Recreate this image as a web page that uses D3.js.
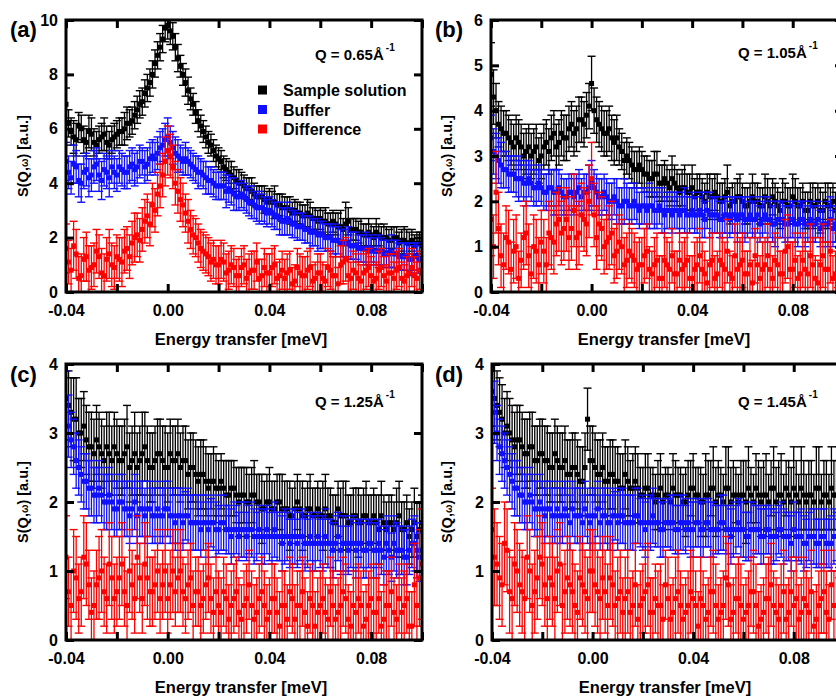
<!DOCTYPE html>
<html><head><meta charset="utf-8">
<script src="https://cdn.jsdelivr.net/npm/d3@7"></script>
<style>
body{margin:0;background:#fff}
svg{display:block}
text{font-family:"Liberation Sans",Arial,sans-serif;font-weight:bold;fill:#000}
</style>
</head><body>
<svg id="chart" width="836" height="698"></svg>
<script>
// ---------- data ----------
// energy grid (meV): main points and the points in between
const energy = [
-0.040,-0.038,-0.036,-0.034,-0.032,-0.030,-0.028,-0.026,-0.024,-0.022,
-0.020,-0.018,-0.016,-0.014,-0.012,-0.010,-0.008,-0.006,-0.004,-0.002,
0.000,0.002,0.004,0.006,0.008,0.010,0.012,0.014,0.016,0.018,
0.020,0.022,0.024,0.026,0.028,0.030,0.032,0.034,0.036,0.038,
0.040,0.042,0.044,0.046,0.048,0.050,0.052,0.054,0.056,0.058,
0.060,0.062,0.064,0.066,0.068,0.070,0.072,0.074,0.076,0.078,
0.080,0.082,0.084,0.086,0.088,0.090,0.092,0.094,0.096,0.098,
0.100];
const energyMid = [
-0.039,-0.037,-0.035,-0.033,-0.031,-0.029,-0.027,-0.025,-0.023,-0.021,
-0.019,-0.017,-0.015,-0.013,-0.011,-0.009,-0.007,-0.005,-0.003,-0.001,
0.001,0.003,0.005,0.007,0.009,0.011,0.013,0.015,0.017,0.019,
0.021,0.023,0.025,0.027,0.029,0.031,0.033,0.035,0.037,0.039,
0.041,0.043,0.045,0.047,0.049,0.051,0.053,0.055,0.057,0.059,
0.061,0.063,0.065,0.067,0.069,0.071,0.073,0.075,0.077,0.079,
0.081,0.083,0.085,0.087,0.089,0.091,0.093,0.095,0.097,0.099];

const seriesNames = ["Sample solution","Buffer","Difference"];
const seriesColors = ["#000000","#1010ff","#ff0000"];
const panelLabels = ["(a)","(b)","(c)","(d)"];
const qValues = ["0.65","1.05","1.25","1.45"];
const xDomain = [-0.04, 0.10];
const xTickValues = [-0.04,-0.02,0.00,0.02,0.04,0.06,0.08,0.10];
const xTickLabels = {"-0.04":"-0.04","0":"0.00","0.04":"0.04","0.08":"0.08"};
const aYTicks = [0,2,4,6,8,10];
const bYTicks = [0,1,2,3,4,5,6];
const cYTicks = [0,1,2,3,4];
const dYTicks = [0,1,2,3,4];

// ===== panel (a) Q = 0.65 =====
const aBlack = [
6.9,5.9,5.6,6.0,5.5,5.8,5.4,5.7,5.5,5.6,
5.8,5.9,6.2,6.3,6.7,7.0,7.5,8.0,8.7,9.3,
9.8,9.4,8.6,8.0,7.4,6.9,6.3,5.9,5.5,5.2,
4.9,4.6,4.4,4.2,4.0,3.9,3.8,3.6,3.5,3.4,
3.4,3.3,3.2,3.1,3.0,3.0,2.9,2.8,2.8,2.7,
2.7,2.6,2.5,2.5,2.4,2.5,2.3,2.3,2.2,2.1,
2.1,2.2,2.0,2.0,1.9,2.0,1.9,1.8,1.9,1.8,
1.7];
const aBlackErr = [
0.6,0.5,0.6,0.5,0.5,0.6,0.5,0.5,0.6,0.5,
0.5,0.5,0.6,0.5,0.5,0.5,0.5,0.5,0.5,0.5,
0.5,0.5,0.5,0.4,0.5,0.4,0.4,0.4,0.4,0.4,
0.4,0.4,0.4,0.4,0.5,0.4,0.4,0.4,0.4,0.5,
0.4,0.6,0.4,0.4,0.5,0.4,0.4,0.4,0.5,0.4,
0.4,0.5,0.4,0.4,0.6,0.8,0.4,0.4,0.5,0.4,
0.4,0.5,0.4,0.4,0.5,0.4,0.4,0.5,0.4,0.4,
0.4];
const aBlackMid = [
6.2,5.7,6.1,5.6,5.9,5.5,5.6,5.8,5.4,5.7,
5.9,6.0,6.2,6.5,6.9,7.3,7.7,8.4,9.0,9.7,
9.6,9.0,8.3,7.7,7.1,6.6,6.1,5.7,5.4,5.0,
4.8,4.5,4.3,4.1,4.0,3.8,3.7,3.5,3.5,3.3,
3.3,3.2,3.1,3.1,2.9,2.9,2.8,2.9,2.7,2.6,
2.6,2.5,2.6,2.4,2.3,2.6,2.3,2.2,2.1,2.2,
2.0,2.1,2.0,1.9,2.0,1.8,1.9,1.8,1.7,1.8];
const aBlackMidErr = [
0.5,0.6,0.5,0.5,0.6,0.5,0.5,0.6,0.5,0.5,
0.5,0.6,0.5,0.5,0.5,0.5,0.5,0.5,0.5,0.5,
0.5,0.5,0.4,0.5,0.4,0.4,0.4,0.4,0.4,0.4,
0.4,0.4,0.5,0.4,0.4,0.4,0.5,0.4,0.4,0.4,
0.4,0.4,0.5,0.4,0.4,0.4,0.4,0.5,0.4,0.4,
0.4,0.4,0.4,0.5,0.4,0.5,0.4,0.4,0.4,0.5,
0.4,0.4,0.5,0.4,0.4,0.4,0.5,0.4,0.4,0.4];
const aBlue = [
4.8,4.2,4.6,4.0,4.5,4.3,4.7,4.1,4.4,4.6,
4.3,4.5,4.4,4.7,4.6,4.8,4.7,5.0,5.1,5.4,
5.7,5.3,5.0,4.8,4.8,4.6,4.4,4.3,4.1,4.0,
3.9,3.9,3.8,3.6,3.5,3.5,3.3,3.2,3.1,3.0,
3.0,2.8,2.7,2.6,2.6,2.5,2.4,2.3,2.2,2.2,
2.1,2.0,2.0,1.9,1.8,1.8,1.7,1.7,1.6,1.6,
1.6,1.5,1.5,1.4,1.5,1.4,1.3,1.3,1.2,1.3,
1.2];
const aBlueErr = [
0.7,0.6,0.6,0.7,0.6,0.6,0.6,0.7,0.6,0.6,
0.6,0.6,0.6,0.6,0.6,0.5,0.6,0.6,0.6,0.6,
0.7,0.6,0.6,0.5,0.5,0.5,0.6,0.5,0.5,0.5,
0.5,0.5,0.5,0.6,0.5,0.5,0.5,0.5,0.6,0.5,
0.5,0.5,0.6,0.5,0.5,0.5,0.5,0.5,0.6,0.5,
0.5,0.5,0.5,0.6,0.5,0.5,0.5,0.5,0.5,0.6,
0.5,0.5,0.5,0.5,0.6,0.5,0.5,0.5,0.5,0.5,
0.5];
const aBlueMid = [
4.4,4.7,4.1,4.4,4.2,4.6,4.3,4.5,4.2,4.4,
4.6,4.4,4.6,4.5,4.8,4.6,4.9,4.9,5.3,5.6,
5.5,5.1,4.9,4.9,4.7,4.5,4.4,4.2,4.1,3.9,
3.9,3.7,3.7,3.5,3.6,3.4,3.3,3.1,3.1,2.9,
2.9,2.8,2.6,2.7,2.5,2.4,2.4,2.3,2.2,2.1,
2.1,2.0,1.9,1.9,1.8,1.8,1.7,1.6,1.6,1.5,
1.5,1.5,1.4,1.4,1.4,1.3,1.3,1.2,1.3,1.2];
const aBlueMidErr = [
0.6,0.7,0.6,0.6,0.7,0.6,0.6,0.6,0.7,0.6,
0.6,0.6,0.6,0.6,0.6,0.6,0.6,0.6,0.6,0.6,
0.6,0.6,0.5,0.6,0.5,0.5,0.5,0.6,0.5,0.5,
0.5,0.6,0.5,0.5,0.5,0.5,0.6,0.5,0.5,0.5,
0.5,0.5,0.5,0.6,0.5,0.5,0.5,0.5,0.5,0.6,
0.5,0.5,0.5,0.5,0.5,0.6,0.5,0.5,0.5,0.5,
0.5,0.6,0.5,0.5,0.5,0.5,0.5,0.6,0.5,0.5];
const aRed = [
1.6,0.8,1.4,0.6,1.3,0.9,1.5,0.7,1.2,1.0,
1.3,1.1,1.6,1.8,2.1,2.3,2.8,3.2,3.6,4.3,
5.2,4.6,3.7,3.2,2.6,2.1,1.8,1.5,1.3,1.2,
1.0,1.1,0.8,0.9,0.6,1.0,0.7,0.8,0.5,0.9,
0.7,1.0,0.6,0.5,0.8,0.4,0.7,0.6,0.9,0.5,
0.7,0.4,0.8,0.6,1.0,1.2,0.5,0.7,0.4,0.8,
0.6,0.5,0.9,0.4,0.7,0.8,0.5,0.6,0.9,0.5,
0.7];
const aRedErr = [
0.9,0.8,0.9,0.8,0.9,0.8,0.8,0.9,0.8,0.8,
0.8,0.9,0.8,0.8,0.8,0.8,0.8,0.8,0.8,0.8,
0.9,0.8,0.8,0.8,0.8,0.7,0.7,0.7,0.7,0.7,
0.7,0.7,0.7,0.7,0.7,0.7,0.7,0.7,0.7,0.7,
0.7,0.7,0.6,0.7,0.7,0.6,0.7,0.7,0.7,0.6,
0.7,0.6,0.7,0.7,0.7,0.8,0.6,0.7,0.6,0.7,
0.7,0.6,0.7,0.6,0.7,0.7,0.6,0.7,0.7,0.6,
0.7];
const aRedMid = [
1.1,1.7,0.5,1.2,0.8,1.0,1.3,0.6,1.4,0.9,
1.2,1.5,1.3,2.0,1.9,2.6,2.5,3.0,3.9,4.8,
5.0,4.0,3.4,2.9,2.3,2.0,1.6,1.4,1.1,1.0,
1.2,0.7,1.0,0.6,0.9,0.5,0.8,1.1,0.6,0.7,
0.9,0.5,0.8,0.7,0.3,0.9,0.6,0.8,0.4,0.7,
0.5,0.9,0.6,0.3,1.1,0.6,0.8,0.5,0.7,0.9,
0.4,0.8,0.6,0.7,0.5,0.9,0.4,0.7,0.6,0.8];
const aRedMidErr = [
0.8,0.9,0.8,0.8,0.9,0.8,0.8,0.8,0.9,0.8,
0.8,0.8,0.8,0.9,0.8,0.8,0.8,0.8,0.8,0.9,
0.8,0.8,0.8,0.7,0.7,0.7,0.7,0.7,0.7,0.7,
0.7,0.7,0.7,0.6,0.7,0.7,0.7,0.7,0.6,0.7,
0.7,0.6,0.7,0.7,0.6,0.7,0.7,0.7,0.6,0.7,
0.6,0.7,0.7,0.6,0.8,0.7,0.7,0.6,0.7,0.7,
0.6,0.7,0.7,0.7,0.6,0.7,0.6,0.7,0.7,0.7];

// ===== panel (b) Q = 1.05 =====
const bBlack = [
4.8,4.0,3.6,3.5,3.3,3.4,3.2,3.1,3.0,3.2,
3.0,3.3,3.4,3.2,3.5,3.4,3.7,3.6,3.8,3.9,
4.6,3.8,3.6,3.5,3.4,3.4,3.1,3.0,2.8,2.7,
2.7,2.6,2.5,2.6,2.4,2.4,2.5,2.3,2.3,2.2,
2.3,2.2,2.1,2.2,2.1,2.1,2.0,2.2,2.0,2.1,
2.0,1.9,2.1,2.0,1.9,2.0,2.1,1.9,2.0,1.9,
2.1,1.9,2.0,1.8,1.9,2.0,1.8,1.9,2.0,1.9,
2.0];
const bBlackErr = [
0.7,0.6,0.5,0.5,0.5,0.5,0.5,0.5,0.5,0.5,
0.5,0.5,0.5,0.5,0.5,0.5,0.5,0.5,0.5,0.5,
0.6,0.5,0.5,0.5,0.5,0.5,0.4,0.4,0.4,0.4,
0.4,0.4,0.4,0.5,0.4,0.4,0.5,0.4,0.4,0.4,
0.5,0.4,0.4,0.4,0.4,0.5,0.4,0.6,0.4,0.4,
0.4,0.4,0.5,0.4,0.4,0.5,0.4,0.4,0.5,0.4,
0.5,0.4,0.4,0.4,0.5,0.4,0.4,0.5,0.4,0.4,
0.4];
const bBlackMid = [
4.3,3.7,3.5,3.4,3.2,3.3,3.0,3.2,3.1,2.9,
3.2,3.1,3.5,3.3,3.4,3.6,3.5,3.8,3.7,4.1,
4.0,3.7,3.5,3.6,3.3,3.2,2.9,2.9,2.7,2.8,
2.6,2.5,2.6,2.4,2.5,2.3,2.4,2.2,2.3,2.2,
2.1,2.2,2.0,2.1,2.2,2.0,2.1,1.9,2.0,2.1,
1.9,2.0,2.0,1.9,2.1,1.9,2.0,1.8,2.0,1.9,
2.0,1.9,1.8,2.0,1.9,1.8,2.0,1.9,1.8,2.0];
const bBlackMidErr = [
0.6,0.5,0.5,0.5,0.5,0.5,0.5,0.5,0.5,0.5,
0.5,0.5,0.5,0.5,0.5,0.5,0.5,0.5,0.5,0.5,
0.5,0.5,0.5,0.5,0.5,0.4,0.4,0.4,0.4,0.4,
0.4,0.4,0.5,0.4,0.4,0.4,0.4,0.4,0.5,0.4,
0.4,0.4,0.4,0.5,0.4,0.4,0.4,0.4,0.4,0.5,
0.4,0.4,0.4,0.4,0.5,0.4,0.4,0.4,0.4,0.4,
0.5,0.4,0.4,0.4,0.4,0.5,0.4,0.4,0.4,0.4];
const bBlue = [
3.4,3.0,2.8,2.7,2.6,2.5,2.5,2.4,2.4,2.3,
2.3,2.2,2.3,2.2,2.2,2.1,2.2,2.2,2.1,2.2,
2.4,2.2,2.1,2.1,2.0,2.0,1.9,2.0,1.9,1.9,
1.9,1.8,1.9,1.8,1.8,1.8,1.7,1.8,1.8,1.7,
1.8,1.7,1.7,1.8,1.7,1.7,1.6,1.7,1.7,1.6,
1.7,1.6,1.6,1.7,1.6,1.6,1.5,1.6,1.6,1.5,
1.6,1.5,1.6,1.5,1.5,1.6,1.5,1.5,1.4,1.5,
1.5];
const bBlueErr = [
0.5,0.5,0.5,0.4,0.4,0.4,0.4,0.5,0.4,0.4,
0.4,0.4,0.4,0.5,0.4,0.4,0.4,0.4,0.4,0.4,
0.5,0.4,0.4,0.4,0.4,0.5,0.4,0.4,0.4,0.4,
0.4,0.4,0.4,0.4,0.5,0.4,0.4,0.4,0.4,0.4,
0.4,0.4,0.5,0.4,0.4,0.4,0.4,0.4,0.4,0.5,
0.4,0.4,0.4,0.4,0.4,0.5,0.4,0.4,0.4,0.4,
0.4,0.5,0.4,0.4,0.4,0.4,0.4,0.5,0.4,0.4,
0.4];
const bBlueMid = [
3.1,2.9,2.7,2.6,2.6,2.5,2.4,2.5,2.3,2.4,
2.2,2.3,2.2,2.3,2.1,2.2,2.1,2.3,2.2,2.3,
2.3,2.1,2.2,2.0,2.1,1.9,2.0,1.9,2.0,1.8,
1.9,1.9,1.8,1.9,1.7,1.8,1.8,1.7,1.8,1.7,
1.7,1.8,1.6,1.7,1.7,1.6,1.7,1.6,1.7,1.7,
1.6,1.7,1.6,1.5,1.7,1.6,1.5,1.6,1.5,1.6,
1.5,1.6,1.5,1.6,1.5,1.4,1.5,1.6,1.5,1.4];
const bBlueMidErr = [
0.5,0.5,0.4,0.4,0.4,0.5,0.4,0.4,0.4,0.4,
0.4,0.4,0.5,0.4,0.4,0.4,0.4,0.4,0.4,0.5,
0.4,0.4,0.4,0.4,0.4,0.4,0.5,0.4,0.4,0.4,
0.4,0.5,0.4,0.4,0.4,0.4,0.4,0.4,0.5,0.4,
0.4,0.4,0.4,0.5,0.4,0.4,0.4,0.4,0.4,0.4,
0.5,0.4,0.4,0.4,0.4,0.4,0.5,0.4,0.4,0.4,
0.4,0.4,0.5,0.4,0.4,0.4,0.4,0.5,0.4,0.4];
const bRed = [
1.6,2.2,0.8,1.2,0.5,1.0,0.7,1.3,0.4,0.9,
1.1,0.6,1.2,1.5,1.3,1.6,1.4,1.2,1.7,1.5,
2.5,1.2,1.4,1.1,1.3,0.9,1.0,0.7,0.8,0.5,
0.6,0.9,0.4,0.7,0.3,0.6,0.8,0.4,0.5,0.7,
0.3,0.6,0.5,0.2,0.7,0.4,0.6,0.9,0.3,0.5,
0.7,0.4,0.2,0.6,0.5,0.8,0.3,0.6,0.4,1.0,
0.5,0.3,0.7,0.4,0.6,0.2,0.8,0.5,0.3,0.7,
0.6];
const bRedErr = [
0.8,0.9,0.7,0.7,0.6,0.7,0.6,0.7,0.6,0.7,
0.7,0.6,0.7,0.7,0.7,0.7,0.7,0.7,0.7,0.7,
0.8,0.7,0.7,0.6,0.7,0.6,0.6,0.6,0.6,0.6,
0.6,0.6,0.5,0.6,0.5,0.6,0.6,0.5,0.6,0.6,
0.5,0.6,0.6,0.5,0.6,0.5,0.6,0.7,0.5,0.6,
0.6,0.5,0.5,0.6,0.6,0.7,0.5,0.6,0.5,0.7,
0.6,0.5,0.6,0.5,0.6,0.5,0.7,0.6,0.5,0.6,
0.6];
const bRedMid = [
1.0,1.4,0.6,1.1,0.9,0.3,1.2,0.8,1.0,0.6,
0.9,1.3,1.1,1.6,1.4,1.2,1.8,1.3,1.6,2.0,
1.7,1.5,1.0,1.2,0.8,1.1,0.6,0.9,0.7,0.6,
0.8,0.5,0.6,0.3,0.7,0.5,0.4,0.7,0.6,0.3,
0.5,0.8,0.4,0.6,0.3,0.7,0.5,0.4,0.8,0.6,
0.4,0.6,0.8,0.3,0.6,0.5,0.7,0.4,0.9,0.5,
0.7,0.4,0.5,0.8,0.3,0.6,0.5,0.9,0.4,0.7];
const bRedMidErr = [
0.7,0.8,0.7,0.7,0.7,0.6,0.7,0.7,0.7,0.6,
0.7,0.7,0.7,0.7,0.7,0.7,0.8,0.7,0.7,0.8,
0.7,0.7,0.6,0.7,0.6,0.6,0.6,0.6,0.6,0.6,
0.6,0.5,0.6,0.5,0.6,0.6,0.5,0.6,0.6,0.5,
0.6,0.6,0.5,0.6,0.5,0.6,0.6,0.5,0.7,0.6,
0.5,0.6,0.6,0.5,0.6,0.6,0.6,0.5,0.7,0.6,
0.6,0.5,0.6,0.7,0.5,0.6,0.6,0.7,0.5,0.6];

// ===== panel (c) Q = 1.25 =====
const cBlack = [
3.5,3.3,3.2,3.0,2.9,2.8,2.9,2.7,2.8,2.6,
2.7,2.6,2.8,2.6,2.5,2.7,2.6,2.5,2.7,2.6,
2.5,2.6,2.7,2.6,2.4,2.5,2.3,2.4,2.2,2.3,
2.2,2.2,2.1,2.2,2.0,2.1,2.0,2.1,2.0,1.9,
2.0,1.9,2.0,1.9,1.8,1.9,1.9,1.8,1.9,1.8,
1.8,1.9,1.8,1.7,1.8,1.8,1.7,1.8,1.7,1.8,
1.7,1.7,1.8,1.6,1.7,1.7,1.6,1.7,1.6,1.5,
1.7];
const cBlackErr = [
0.5,0.5,0.6,0.5,0.5,0.5,0.5,0.5,0.5,0.5,
0.5,0.5,0.6,0.5,0.5,0.6,0.5,0.5,0.5,0.5,
0.5,0.5,0.5,0.5,0.5,0.5,0.5,0.5,0.5,0.5,
0.4,0.4,0.5,0.4,0.5,0.4,0.4,0.5,0.4,0.4,
0.5,0.4,0.4,0.4,0.5,0.4,0.4,0.4,0.5,0.4,
0.4,0.5,0.4,0.4,0.4,0.5,0.4,0.4,0.4,0.5,
0.4,0.4,0.5,0.4,0.4,0.5,0.4,0.4,0.4,0.5,
0.4];
const cBlackMid = [
3.4,3.2,3.0,3.1,2.8,2.7,2.8,2.6,2.7,2.8,
2.6,2.7,2.5,2.7,2.6,2.8,2.5,2.6,2.7,2.5,
2.7,2.6,2.5,2.6,2.5,2.4,2.4,2.3,2.3,2.2,
2.3,2.1,2.2,2.1,2.1,2.0,2.1,2.0,1.9,2.0,
1.9,2.0,1.9,1.9,1.8,2.0,1.8,1.9,1.8,1.9,
1.8,1.8,1.7,1.9,1.8,1.7,1.8,1.7,1.8,1.7,
1.8,1.6,1.7,1.7,1.6,1.8,1.6,1.5,1.7,1.6];
const cBlackMidErr = [
0.5,0.6,0.5,0.5,0.5,0.5,0.5,0.5,0.6,0.5,
0.5,0.5,0.5,0.6,0.5,0.5,0.5,0.5,0.5,0.6,
0.5,0.5,0.5,0.5,0.5,0.5,0.5,0.5,0.4,0.5,
0.4,0.5,0.4,0.4,0.4,0.5,0.4,0.4,0.5,0.4,
0.4,0.4,0.5,0.4,0.4,0.4,0.5,0.4,0.4,0.4,
0.5,0.4,0.4,0.4,0.5,0.4,0.4,0.5,0.4,0.4,
0.4,0.5,0.4,0.4,0.4,0.5,0.4,0.4,0.5,0.4];
const cBlue = [
3.4,2.9,2.6,2.4,2.3,2.2,2.1,2.1,2.0,2.0,
1.9,2.0,1.9,1.9,1.8,1.9,1.9,1.8,1.9,1.8,
1.9,1.8,1.8,1.7,1.8,1.7,1.7,1.7,1.6,1.7,
1.6,1.7,1.6,1.6,1.5,1.6,1.6,1.5,1.6,1.5,
1.5,1.6,1.5,1.5,1.4,1.5,1.5,1.4,1.5,1.4,
1.4,1.5,1.4,1.4,1.3,1.4,1.4,1.3,1.4,1.3,
1.4,1.3,1.3,1.4,1.2,1.3,1.3,1.2,1.4,1.3,
1.3];
const cBlueErr = [
0.5,0.4,0.4,0.4,0.4,0.4,0.4,0.4,0.4,0.4,
0.4,0.4,0.4,0.4,0.4,0.4,0.4,0.4,0.4,0.4,
0.4,0.4,0.4,0.4,0.4,0.4,0.4,0.4,0.4,0.4,
0.35,0.4,0.35,0.4,0.35,0.4,0.35,0.4,0.35,0.4,
0.35,0.4,0.35,0.4,0.35,0.4,0.35,0.4,0.35,0.4,
0.35,0.4,0.35,0.4,0.35,0.4,0.35,0.4,0.35,0.4,
0.35,0.4,0.35,0.4,0.35,0.4,0.35,0.4,0.35,0.4,
0.4];
const cBlueMid = [
3.1,2.8,2.5,2.3,2.2,2.1,2.2,2.0,2.1,1.9,
2.0,1.9,1.8,2.0,1.9,1.8,1.9,1.8,1.8,1.9,
1.8,1.7,1.8,1.8,1.7,1.7,1.6,1.7,1.7,1.6,
1.7,1.6,1.5,1.6,1.6,1.5,1.6,1.5,1.5,1.6,
1.5,1.5,1.4,1.5,1.5,1.4,1.5,1.4,1.4,1.5,
1.4,1.4,1.3,1.5,1.4,1.3,1.4,1.4,1.3,1.4,
1.3,1.4,1.2,1.3,1.4,1.3,1.2,1.3,1.4,1.2];
const cBlueMidErr = [
0.45,0.4,0.4,0.4,0.4,0.4,0.4,0.4,0.4,0.4,
0.4,0.4,0.4,0.4,0.4,0.4,0.4,0.4,0.4,0.4,
0.4,0.4,0.4,0.35,0.4,0.4,0.4,0.4,0.35,0.4,
0.4,0.35,0.4,0.35,0.4,0.35,0.4,0.35,0.4,0.35,
0.4,0.35,0.4,0.35,0.4,0.35,0.4,0.35,0.4,0.35,
0.4,0.35,0.4,0.35,0.4,0.35,0.4,0.35,0.4,0.35,
0.4,0.35,0.4,0.35,0.4,0.35,0.4,0.35,0.4,0.35];
const cRed = [
1.2,0.5,0.9,0.7,1.1,0.4,0.8,1.0,0.6,0.9,
0.7,1.1,0.5,0.8,1.2,0.6,0.9,0.7,1.0,0.8,
0.6,1.0,0.9,0.7,0.8,0.5,0.7,0.6,0.9,0.4,
0.5,0.7,0.3,0.6,0.4,0.5,0.8,0.3,0.6,0.5,
0.4,0.6,0.2,0.5,0.7,0.3,0.5,0.4,0.6,0.2,
0.5,0.4,0.7,0.3,0.5,0.6,0.2,0.4,0.5,0.3,
0.6,0.4,0.2,0.5,0.7,0.3,0.4,0.6,0.2,0.5,
1.1];
const cRedErr = [
0.6,0.5,0.6,0.5,0.6,0.5,0.5,0.6,0.5,0.6,
0.5,0.6,0.5,0.5,0.6,0.5,0.6,0.5,0.6,0.5,
0.5,0.6,0.5,0.5,0.5,0.5,0.5,0.5,0.5,0.5,
0.5,0.5,0.5,0.5,0.5,0.5,0.5,0.5,0.5,0.5,
0.5,0.5,0.5,0.5,0.5,0.5,0.5,0.5,0.5,0.5,
0.5,0.5,0.5,0.5,0.5,0.5,0.5,0.5,0.5,0.5,
0.5,0.5,0.5,0.5,0.5,0.5,0.5,0.5,0.5,0.5,
0.8];
const cRedMid = [
0.7,1.0,0.6,1.2,0.8,0.5,0.9,0.7,1.1,0.6,
0.9,0.7,1.0,0.6,0.9,1.1,0.7,0.8,0.6,1.0,
0.8,0.7,1.0,0.6,0.9,0.7,0.5,0.8,0.6,0.7,
0.4,0.6,0.5,0.7,0.3,0.6,0.5,0.4,0.7,0.3,
0.6,0.4,0.5,0.3,0.6,0.5,0.7,0.2,0.5,0.4,
0.6,0.3,0.5,0.4,0.7,0.3,0.5,0.6,0.2,0.5,
0.4,0.6,0.3,0.5,0.4,0.6,0.5,0.2,0.8,0.9];
const cRedMidErr = [
0.5,0.6,0.5,0.6,0.5,0.5,0.6,0.5,0.6,0.5,
0.6,0.5,0.6,0.5,0.5,0.6,0.5,0.5,0.5,0.6,
0.5,0.5,0.6,0.5,0.5,0.5,0.5,0.5,0.5,0.5,
0.5,0.5,0.5,0.5,0.5,0.5,0.5,0.5,0.5,0.5,
0.5,0.5,0.5,0.5,0.5,0.5,0.5,0.5,0.5,0.5,
0.5,0.5,0.5,0.5,0.5,0.5,0.5,0.5,0.5,0.5,
0.5,0.5,0.5,0.5,0.5,0.5,0.5,0.5,0.6,0.7];

// ===== panel (d) Q = 1.45 =====
const dBlack = [
3.6,3.4,3.2,3.1,2.9,2.9,2.8,2.7,2.8,2.6,
2.7,2.6,2.5,2.6,2.5,2.4,2.5,2.4,2.3,3.2,
2.6,2.4,2.5,2.3,2.4,2.3,2.2,2.3,2.2,2.2,
2.1,2.2,2.1,2.1,2.0,2.1,2.2,2.1,2.0,2.1,
2.2,2.1,2.0,2.1,2.2,2.1,2.0,2.2,2.1,2.0,
2.1,2.2,2.0,2.1,2.1,2.0,2.2,2.1,2.0,2.1,
2.2,2.0,2.1,2.1,2.0,2.2,2.1,2.0,2.1,2.2,
3.0];
const dBlackErr = [
0.5,0.5,0.5,0.5,0.5,0.5,0.5,0.5,0.5,0.5,
0.5,0.5,0.5,0.5,0.5,0.5,0.5,0.5,0.5,0.45,
0.5,0.5,0.5,0.5,0.5,0.5,0.5,0.5,0.5,0.5,
0.4,0.5,0.4,0.5,0.4,0.4,0.5,0.4,0.4,0.5,
0.5,0.4,0.4,0.5,0.6,0.5,0.4,0.6,0.5,0.4,
0.5,0.6,0.4,0.5,0.5,0.4,0.6,0.5,0.4,0.5,
0.6,0.4,0.5,0.5,0.4,0.6,0.5,0.4,0.5,0.6,
0.6];
const dBlackMid = [
3.5,3.3,3.0,3.0,2.8,2.9,2.7,2.8,2.6,2.7,
2.6,2.5,2.7,2.5,2.6,2.4,2.5,2.3,2.5,2.6,
2.5,2.4,2.3,2.4,2.3,2.2,2.4,2.2,2.3,2.1,
2.2,2.1,2.0,2.2,2.1,2.0,2.1,2.1,2.0,2.2,
2.1,2.0,2.1,2.2,2.0,2.1,2.2,2.0,2.1,2.1,
2.0,2.1,2.2,2.0,2.1,2.2,2.0,2.1,2.2,2.0,
2.1,2.2,2.0,2.1,2.2,2.0,2.1,2.2,2.1,2.3];
const dBlackMidErr = [
0.5,0.5,0.5,0.5,0.5,0.5,0.5,0.5,0.5,0.5,
0.5,0.5,0.5,0.5,0.5,0.5,0.5,0.5,0.5,0.5,
0.5,0.5,0.5,0.5,0.5,0.5,0.5,0.4,0.5,0.4,
0.5,0.4,0.4,0.5,0.4,0.4,0.5,0.4,0.5,0.4,
0.4,0.5,0.6,0.4,0.5,0.4,0.6,0.5,0.4,0.5,
0.6,0.4,0.5,0.5,0.6,0.4,0.5,0.6,0.4,0.5,
0.5,0.6,0.4,0.5,0.6,0.4,0.5,0.6,0.5,0.6];
const dBlue = [
3.5,3.0,2.7,2.5,2.3,2.2,2.1,2.0,2.0,1.9,
1.9,1.9,1.8,1.9,1.8,1.8,1.9,1.8,1.7,1.8,
1.8,1.9,1.8,1.7,1.8,1.7,1.8,1.7,1.7,1.8,
1.7,1.7,1.8,1.7,1.6,1.7,1.7,1.6,1.7,1.7,
1.6,1.7,1.6,1.7,1.6,1.6,1.7,1.6,1.6,1.7,
1.6,1.5,1.6,1.6,1.5,1.6,1.5,1.6,1.5,1.5,
1.6,1.5,1.4,1.5,1.5,1.4,1.5,1.4,1.5,1.4,
1.4];
const dBlueErr = [
0.5,0.4,0.4,0.4,0.4,0.4,0.4,0.4,0.4,0.4,
0.4,0.4,0.4,0.4,0.4,0.4,0.4,0.4,0.4,0.4,
0.4,0.4,0.4,0.4,0.4,0.4,0.4,0.4,0.4,0.4,
0.4,0.35,0.4,0.35,0.4,0.35,0.4,0.35,0.4,0.35,
0.4,0.35,0.4,0.35,0.4,0.35,0.4,0.35,0.4,0.35,
0.4,0.35,0.4,0.35,0.4,0.35,0.4,0.35,0.4,0.35,
0.4,0.35,0.4,0.35,0.4,0.35,0.4,0.35,0.4,0.35,
0.4];
const dBlueMid = [
3.3,2.8,2.6,2.4,2.2,2.1,2.0,2.1,1.9,2.0,
1.8,1.9,1.8,1.8,1.9,1.7,1.8,1.8,1.9,1.7,
1.8,1.7,1.8,1.7,1.8,1.8,1.7,1.7,1.8,1.7,
1.6,1.7,1.7,1.6,1.7,1.7,1.6,1.7,1.6,1.6,
1.7,1.6,1.7,1.6,1.6,1.7,1.6,1.5,1.6,1.6,
1.5,1.6,1.6,1.5,1.6,1.5,1.5,1.6,1.5,1.4,
1.5,1.5,1.4,1.5,1.4,1.5,1.4,1.4,1.5,1.4];
const dBlueMidErr = [
0.45,0.4,0.4,0.4,0.4,0.4,0.4,0.4,0.4,0.4,
0.4,0.4,0.4,0.4,0.4,0.4,0.4,0.4,0.4,0.4,
0.4,0.4,0.4,0.4,0.35,0.4,0.4,0.4,0.4,0.35,
0.4,0.4,0.35,0.4,0.35,0.4,0.35,0.4,0.35,0.4,
0.35,0.4,0.35,0.4,0.35,0.4,0.35,0.4,0.35,0.4,
0.35,0.4,0.35,0.4,0.35,0.4,0.35,0.4,0.35,0.4,
0.35,0.4,0.35,0.4,0.35,0.4,0.35,0.4,0.35,0.4];
const dRed = [
1.6,1.1,0.8,1.3,0.6,1.0,0.7,1.2,0.5,0.9,
1.1,0.6,0.8,1.0,0.5,0.9,0.7,0.4,0.8,0.6,
1.0,0.7,0.9,0.5,0.8,0.6,0.4,0.7,0.5,0.3,
0.6,0.8,0.4,0.5,0.3,0.6,0.4,0.7,0.3,0.5,
0.6,0.2,0.5,0.4,0.7,0.3,0.5,0.8,0.4,0.6,
0.3,0.5,0.7,0.2,0.4,0.6,0.5,0.3,0.7,0.4,
0.5,0.3,0.6,0.4,0.2,0.5,0.7,0.3,0.5,0.4,
0.6];
const dRedErr = [
0.6,0.6,0.6,0.6,0.6,0.6,0.6,0.6,0.6,0.6,
0.6,0.6,0.6,0.6,0.6,0.6,0.6,0.6,0.6,0.6,
0.6,0.6,0.6,0.6,0.6,0.6,0.5,0.6,0.5,0.5,
0.5,0.6,0.5,0.5,0.5,0.6,0.5,0.6,0.5,0.5,
0.6,0.5,0.5,0.5,0.6,0.5,0.5,0.6,0.5,0.6,
0.5,0.5,0.6,0.5,0.5,0.6,0.5,0.5,0.6,0.5,
0.5,0.5,0.6,0.5,0.5,0.5,0.6,0.5,0.5,0.5,
0.6];
const dRedMid = [
1.2,0.9,1.4,0.7,1.1,0.8,0.6,1.0,0.7,1.2,
0.8,0.9,0.6,1.1,0.7,0.8,0.5,0.9,0.7,1.0,
0.8,0.6,0.7,0.9,0.5,0.7,0.6,0.4,0.8,0.5,
0.7,0.4,0.6,0.5,0.8,0.3,0.6,0.5,0.4,0.7,
0.5,0.6,0.3,0.7,0.5,0.4,0.9,0.3,0.6,0.5,
0.4,0.7,0.5,0.3,0.6,0.8,0.4,0.5,0.3,0.7,
0.6,0.4,0.5,0.7,0.3,0.6,0.4,0.8,0.5,0.6];
const dRedMidErr = [
0.7,0.6,0.6,0.6,0.6,0.6,0.6,0.6,0.6,0.6,
0.6,0.6,0.6,0.6,0.6,0.6,0.6,0.6,0.6,0.6,
0.6,0.6,0.6,0.6,0.5,0.6,0.6,0.5,0.6,0.5,
0.6,0.5,0.5,0.6,0.5,0.5,0.6,0.5,0.5,0.6,
0.5,0.6,0.5,0.5,0.6,0.5,0.6,0.5,0.5,0.6,
0.5,0.5,0.6,0.5,0.5,0.6,0.5,0.6,0.5,0.5,
0.6,0.5,0.5,0.6,0.5,0.5,0.6,0.5,0.5,0.6];

// ---------- layout ----------
const panels = [
  {label:panelLabels[0], q:qValues[0], yTicks:aYTicks,
   vals:[[aBlack,aBlackMid],[aBlue,aBlueMid],[aRed,aRedMid]],
   errs:[[aBlackErr,aBlackMidErr],[aBlueErr,aBlueMidErr],[aRedErr,aRedMidErr]],
   l:66, t:20, w:356, h:272, legend:true, lab:[10,37], qpos:[315,60], ytx:23},
  {label:panelLabels[1], q:qValues[1], yTicks:bYTicks,
   vals:[[bBlack,bBlackMid],[bBlue,bBlueMid],[bRed,bRedMid]],
   errs:[[bBlackErr,bBlackMidErr],[bBlueErr,bBlueMidErr],[bRedErr,bRedMidErr]],
   l:491, t:20, w:352, h:272, legend:false, lab:[435,37], qpos:[738,58], ytx:447},
  {label:panelLabels[2], q:qValues[2], yTicks:cYTicks,
   vals:[[cBlack,cBlackMid],[cBlue,cBlueMid],[cRed,cRedMid]],
   errs:[[cBlackErr,cBlackMidErr],[cBlueErr,cBlueMidErr],[cRedErr,cRedMidErr]],
   l:66, t:364, w:356, h:276, legend:false, lab:[10,382], qpos:[315,407], ytx:23},
  {label:panelLabels[3], q:qValues[3], yTicks:dYTicks,
   vals:[[dBlack,dBlackMid],[dBlue,dBlueMid],[dRed,dRedMid]],
   errs:[[dBlackErr,dBlackMidErr],[dBlueErr,dBlueMidErr],[dRedErr,dRedMidErr]],
   l:492, t:364, w:352, h:276, legend:false, lab:[435,382], qpos:[738,407], ytx:447}
];

const svg = d3.select("#chart");
svg.append("rect").attr("width",836).attr("height",698).attr("fill","#fff");
const FONT = '"Liberation Sans",Arial,sans-serif';

panels.forEach((p, pi) => {
  const x = d3.scaleLinear().domain(xDomain).range([p.l, p.l + p.w]);
  const yMax = p.yTicks[p.yTicks.length - 1];
  const y = d3.scaleLinear().domain([0, yMax]).range([p.t + p.h, p.t]);
  const g = svg.append("g");

  const clipId = "clip" + pi;
  svg.append("clipPath").attr("id", clipId).append("rect")
    .attr("x", p.l).attr("y", p.t).attr("width", p.w).attr("height", p.h);
  const plot = g.append("g").attr("clip-path", `url(#${clipId})`);

  p.vals.forEach((pair, si) => {
    const [vMain, vMid] = pair;
    const [eMain, eMid] = p.errs[si];
    const col = seriesColors[si];
    const data = energy.map((e, i) => ({e, v: vMain[i], s: eMain[i]}))
      .concat(energyMid.map((e, i) => ({e, v: vMid[i], s: eMid[i]})))
      .sort((a, b) => a.e - b.e);
    const sg = plot.append("g").attr("stroke", col).attr("fill", col);
    const eb = sg.selectAll("g.eb").data(data).join("g").attr("class","eb");
    eb.append("line")
      .attr("x1", d => x(d.e)).attr("x2", d => x(d.e))
      .attr("y1", d => y(d.v - d.s)).attr("y2", d => y(d.v + d.s))
      .attr("stroke-width", 1.3);
    eb.append("line")
      .attr("x1", d => x(d.e) - 4).attr("x2", d => x(d.e) + 4)
      .attr("y1", d => y(d.v + d.s)).attr("y2", d => y(d.v + d.s))
      .attr("stroke-width", 1.4);
    eb.append("line")
      .attr("x1", d => x(d.e) - 4).attr("x2", d => x(d.e) + 4)
      .attr("y1", d => y(d.v - d.s)).attr("y2", d => y(d.v - d.s))
      .attr("stroke-width", 1.4);
    sg.selectAll("rect.m").data(data).join("rect").attr("class","m")
      .attr("x", d => x(d.e) - 2.5).attr("y", d => y(d.v) - 2.5)
      .attr("width", 5).attr("height", 5).attr("stroke", "none");
  });

  // axes with inward ticks
  const fmtX = v => { const k = String(+v.toFixed(2)); return xTickLabels[k] !== undefined ? xTickLabels[k] : ""; };
  const axB = g.append("g").attr("transform", `translate(0,${p.t + p.h})`)
    .call(d3.axisBottom(x).tickValues(xTickValues).tickSize(-8).tickPadding(13).tickFormat(fmtX));
  const axT = g.append("g").attr("transform", `translate(0,${p.t})`)
    .call(d3.axisTop(x).tickValues(xTickValues).tickSize(-8).tickFormat(""));
  const axL = g.append("g").attr("transform", `translate(${p.l},0)`)
    .call(d3.axisLeft(y).tickValues(p.yTicks).tickSize(-8).tickPadding(8).tickFormat(d3.format("d")));
  const axR = g.append("g").attr("transform", `translate(${p.l + p.w},0)`)
    .call(d3.axisRight(y).tickValues(p.yTicks).tickSize(-8).tickFormat(""));
  [axB, axT, axL, axR].forEach(a => {
    a.select(".domain").remove();
    a.selectAll(".tick line").attr("stroke", "#000").attr("stroke-width", 3);
    a.selectAll(".tick text").attr("font-size", 16).attr("font-family", FONT)
      .attr("font-weight","bold").attr("fill","#000");
  });

  g.append("rect").attr("x", p.l).attr("y", p.t).attr("width", p.w).attr("height", p.h)
    .attr("fill", "none").attr("stroke", "#000").attr("stroke-width", 3);

  // panel label
  g.append("text").attr("x", p.lab[0]).attr("y", p.lab[1]).attr("font-size", 22).text(p.label);

  // Q label
  const qt = g.append("text").attr("x", p.qpos[0]).attr("y", p.qpos[1]).attr("font-size", 15);
  qt.append("tspan").text("Q = " + p.q + "\u00C5");
  qt.append("tspan").attr("font-size", 10).attr("dy", -9).attr("dx", 2).text("-1");

  // y title
  const yt = g.append("text")
    .attr("transform", `translate(${p.ytx + 5},${p.t + p.h / 2}) rotate(-90)`)
    .attr("text-anchor", "middle").attr("font-size", 14.5);
  yt.append("tspan").text("S(Q,");
  yt.append("tspan").attr("font-size", 10).text("\u03C9");
  yt.append("tspan").text(") [a.u.]");

  // x title
  g.append("text").attr("x", p.l + p.w / 2 - 3).attr("y", p.t + p.h + 53)
    .attr("text-anchor", "middle").attr("font-size", 16.5).text("Energy transfer [meV]");

  if (p.legend) {
    const lg = g.append("g");
    seriesNames.forEach((n, i) => {
      const cy = 90 + i * 19.5;
      lg.append("rect").attr("x", 258).attr("y", cy - 4.5).attr("width", 9).attr("height", 9).attr("fill", seriesColors[i]);
      lg.append("text").attr("x", 283).attr("y", cy + 6).attr("font-size", 16).text(n);
    });
  }
});
</script>
</body></html>
